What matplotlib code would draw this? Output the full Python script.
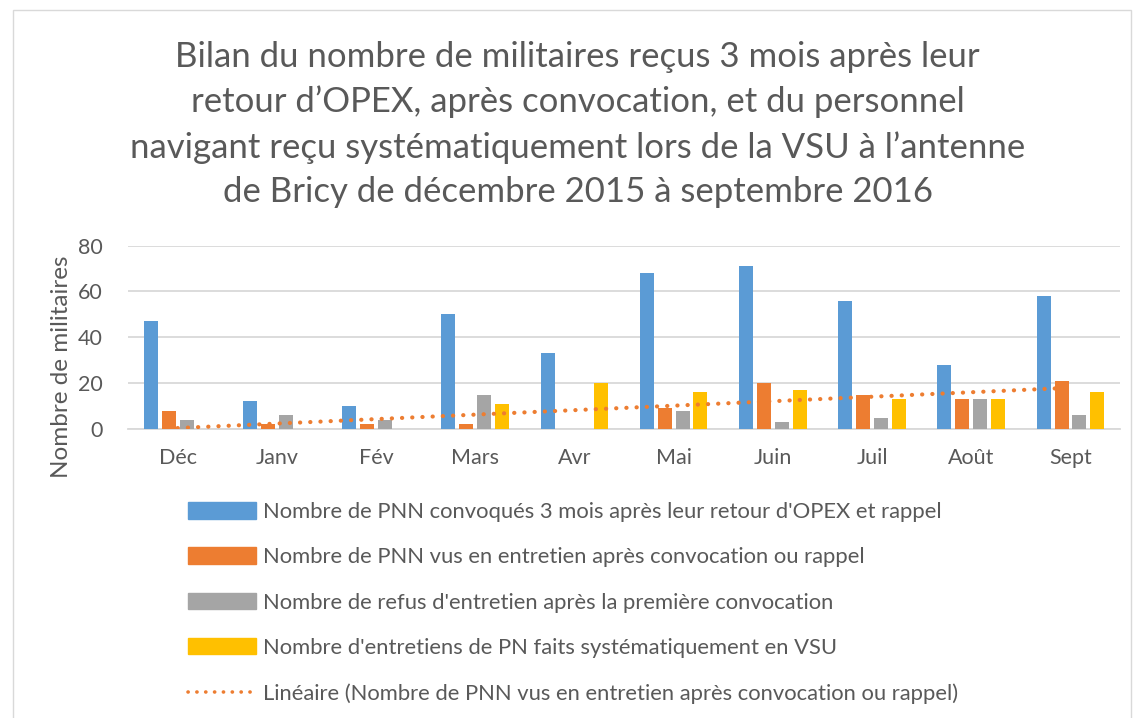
import matplotlib.pyplot as plt
import matplotlib.patches as mpatches
from matplotlib.lines import Line2D
import numpy as np

plt.rcParams['font.family'] = ['Lato', 'DejaVu Sans']

mois = ["Déc", "Janv", "Fév", "Mars", "Avr", "Mai", "Juin", "Juil", "Août", "Sept"]
convoques = [47, 12, 10, 50, 33, 68, 71, 56, 28, 58]
vus = [8, 2, 2, 2, 0, 9, 20, 15, 13, 21]
refus = [4, 6, 4, 15, 0, 8, 3, 5, 13, 6]
vsu = [0, 0, 0, 11, 20, 16, 17, 13, 13, 16]

labels = [
    "Nombre de PNN convoqués 3 mois après leur retour d'OPEX et rappel",
    "Nombre de PNN vus en entretien après convocation ou rappel",
    "Nombre de refus d'entretien après la première convocation",
    "Nombre d'entretiens de PN faits systématiquement en VSU",
]
colors = ["#5b9bd5", "#ed7d31", "#a5a5a5", "#ffc000"]
txt = "#595959"
dots = (0, (0.05, 2.4))

fig = plt.figure(figsize=(11.37, 7.18), dpi=100)
ax = fig.add_axes([0.1126, 0.4025, 0.8725, 0.2555])

x = np.arange(len(mois))
step = 0.18
width = 0.141
series = [convoques, vus, refus, vsu]
for i, (vals, c) in enumerate(zip(series, colors)):
    ax.bar(x + (i - 1.5) * step, vals, width, color=c, zorder=3)

# tendance linéaire de la série orange
coef = np.polyfit(x, vus, 1)
ax.plot(x, np.polyval(coef, x), color="#ed7d31", lw=3,
        linestyle=dots, dash_capstyle="round", zorder=4)

ax.set_xlim(-0.5, len(mois) - 0.5)
ax.set_ylim(0, 80)
ax.set_yticks([0, 20, 40, 60, 80])
ax.set_xticks(x)
ax.set_xticklabels(mois)
ax.grid(axis="y", color="#d9d9d9", lw=1.3, zorder=0)
for s in ["top", "right", "left"]:
    ax.spines[s].set_visible(False)
ax.spines["bottom"].set_color("#d9d9d9")
ax.spines["bottom"].set_linewidth(1.3)
ax.tick_params(length=0, labelsize=15.5, colors=txt, pad=14)
ax.tick_params(axis="y", pad=18)

fig.text(62 / 1137, 1 - 367 / 718, "Nombre de militaires", rotation=90,
         ha="center", va="center", fontsize=17.5, color=txt)

fig.text(0.508, 0.943,
         "Bilan du nombre de militaires reçus 3 mois après leur\n"
         "retour d’OPEX, après convocation, et du personnel\n"
         "navigant reçu systématiquement lors de la VSU à l’antenne\n"
         "de Bricy de décembre 2015 à septembre 2016",
         ha="center", va="top", fontsize=25, color=txt, linespacing=1.47)

handles = [mpatches.Patch(color=c) for c in colors]
handles.append(Line2D([], [], color="#ed7d31", lw=2.6, linestyle=dots,
                      dash_capstyle="round"))
leg = fig.legend(handles, labels + ["Linéaire (Nombre de PNN vus en entretien après convocation ou rappel)"],
                 loc="upper left", bbox_to_anchor=(0.158, 0.313), frameon=False,
                 fontsize=15.8, labelspacing=1.15, handlelength=3.1,
                 handleheight=0.78, handletextpad=0.3, borderaxespad=0)
for t in leg.get_texts():
    t.set_color(txt)

fig.add_artist(mpatches.Rectangle((0.011, -0.05), 0.984, 1.036, transform=fig.transFigure,
                                  fill=False, edgecolor="#d9d9d9", lw=1))

fig.savefig("out.png", dpi=100)
